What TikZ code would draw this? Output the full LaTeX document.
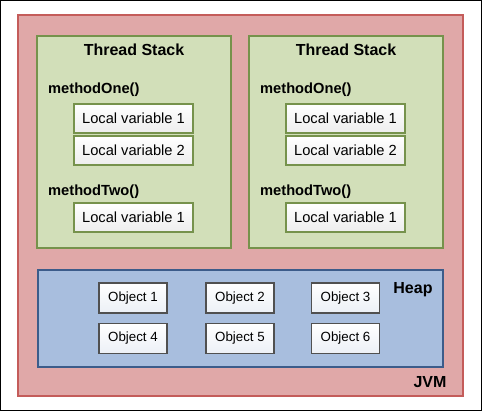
\documentclass[tikz,border=0pt]{standalone}
\usepackage{fontspec}
\setmainfont{Liberation Sans}
\usetikzlibrary{positioning}

\definecolor{jvmfill}{RGB}{224,168,168}
\definecolor{jvmline}{RGB}{196,92,90}
\definecolor{stackfill}{RGB}{210,223,185}
\definecolor{stackline}{RGB}{118,146,76}
\definecolor{heapfill}{RGB}{168,190,222}
\definecolor{heapline}{RGB}{60,92,138}
\definecolor{objfill}{RGB}{236,240,246}
\definecolor{objline}{RGB}{80,80,80}

\tikzset{
	jvmbox/.style={draw=jvmline, fill=jvmfill, line width=2pt, inner sep=0pt},
	stackbox/.style={draw=stackline, fill=stackfill, line width=2pt, minimum width=194pt, minimum height=212pt, inner sep=0pt},
	heapbox/.style={draw=heapline, fill=heapfill, line width=2pt, inner sep=0pt},
	varbox/.style={draw=stackline, line width=1.6pt, top color=white, bottom color=black!7, minimum width=119pt, minimum height=29pt, inner sep=0pt, font=\fontsize{14.67}{16}\selectfont},
	objbox/.style={draw=objline, line width=1.6pt, top color=white, bottom color=objfill, minimum width=68pt, minimum height=30pt, inner sep=0pt, font=\fontsize{13.33}{15}\selectfont},
	title/.style={inner sep=0pt, font=\fontsize{16}{18}\selectfont\bfseries},
	method/.style={inner sep=0pt, anchor=west, font=\fontsize{14.67}{16}\selectfont\bfseries}
}

\begin{document}
\begin{tikzpicture}[x=1pt, y=-1pt]
	\useasboundingbox (0,0) rectangle (482,411);
	\draw[line width=1pt] (0.5,0.5) rectangle (481.5,410.5);

	\node[jvmbox, minimum width=445pt, minimum height=381pt] (jvm) at (240.5,205.5) {};
	\node[title] (jvmlabel) at (430,382) {JVM};

	\begin{scope}
	\node[stackbox] (stackA) at (134,142) {};
	\node[title] (stackAtitle) at (134,50) {Thread Stack};
	\node[method] (oneA) at (48,90) {methodOne()};
	\node[varbox] (oneAvarA) at (133.5,118.5) {Local variable 1};
	\node[varbox] (oneAvarB) at (133.5,150.5) {Local variable 2};
	\node[method] (twoA) at (48,192) {methodTwo()};
	\node[varbox] (twoAvarA) at (133.5,217.5) {Local variable 1};
	\end{scope}

	\begin{scope}[xshift=212pt]
	\node[stackbox] (stackB) at (134,142) {};
	\node[title] (stackBtitle) at (134,50) {Thread Stack};
	\node[method] (oneB) at (48,90) {methodOne()};
	\node[varbox] (oneBvarA) at (133.5,118.5) {Local variable 1};
	\node[varbox] (oneBvarB) at (133.5,150.5) {Local variable 2};
	\node[method] (twoB) at (48,192) {methodTwo()};
	\node[varbox] (twoBvarA) at (133.5,217.5) {Local variable 1};
	\end{scope}

	\node[heapbox, minimum width=405pt, minimum height=97pt] (heap) at (240.5,318.5) {};
	\node[title] (heaplabel) at (413,290) {Heap};

	\node[objbox] (objA) at (133,298) {Object 1};
	\node[objbox] (objB) at (240,298) {Object 2};
	\node[objbox] (objC) at (345.5,298) {Object 3};
	\node[objbox] (objD) at (133,338.5) {Object 4};
	\node[objbox] (objE) at (240,338.5) {Object 5};
	\node[objbox] (objF) at (345.5,338.5) {Object 6};
\end{tikzpicture}
\end{document}
